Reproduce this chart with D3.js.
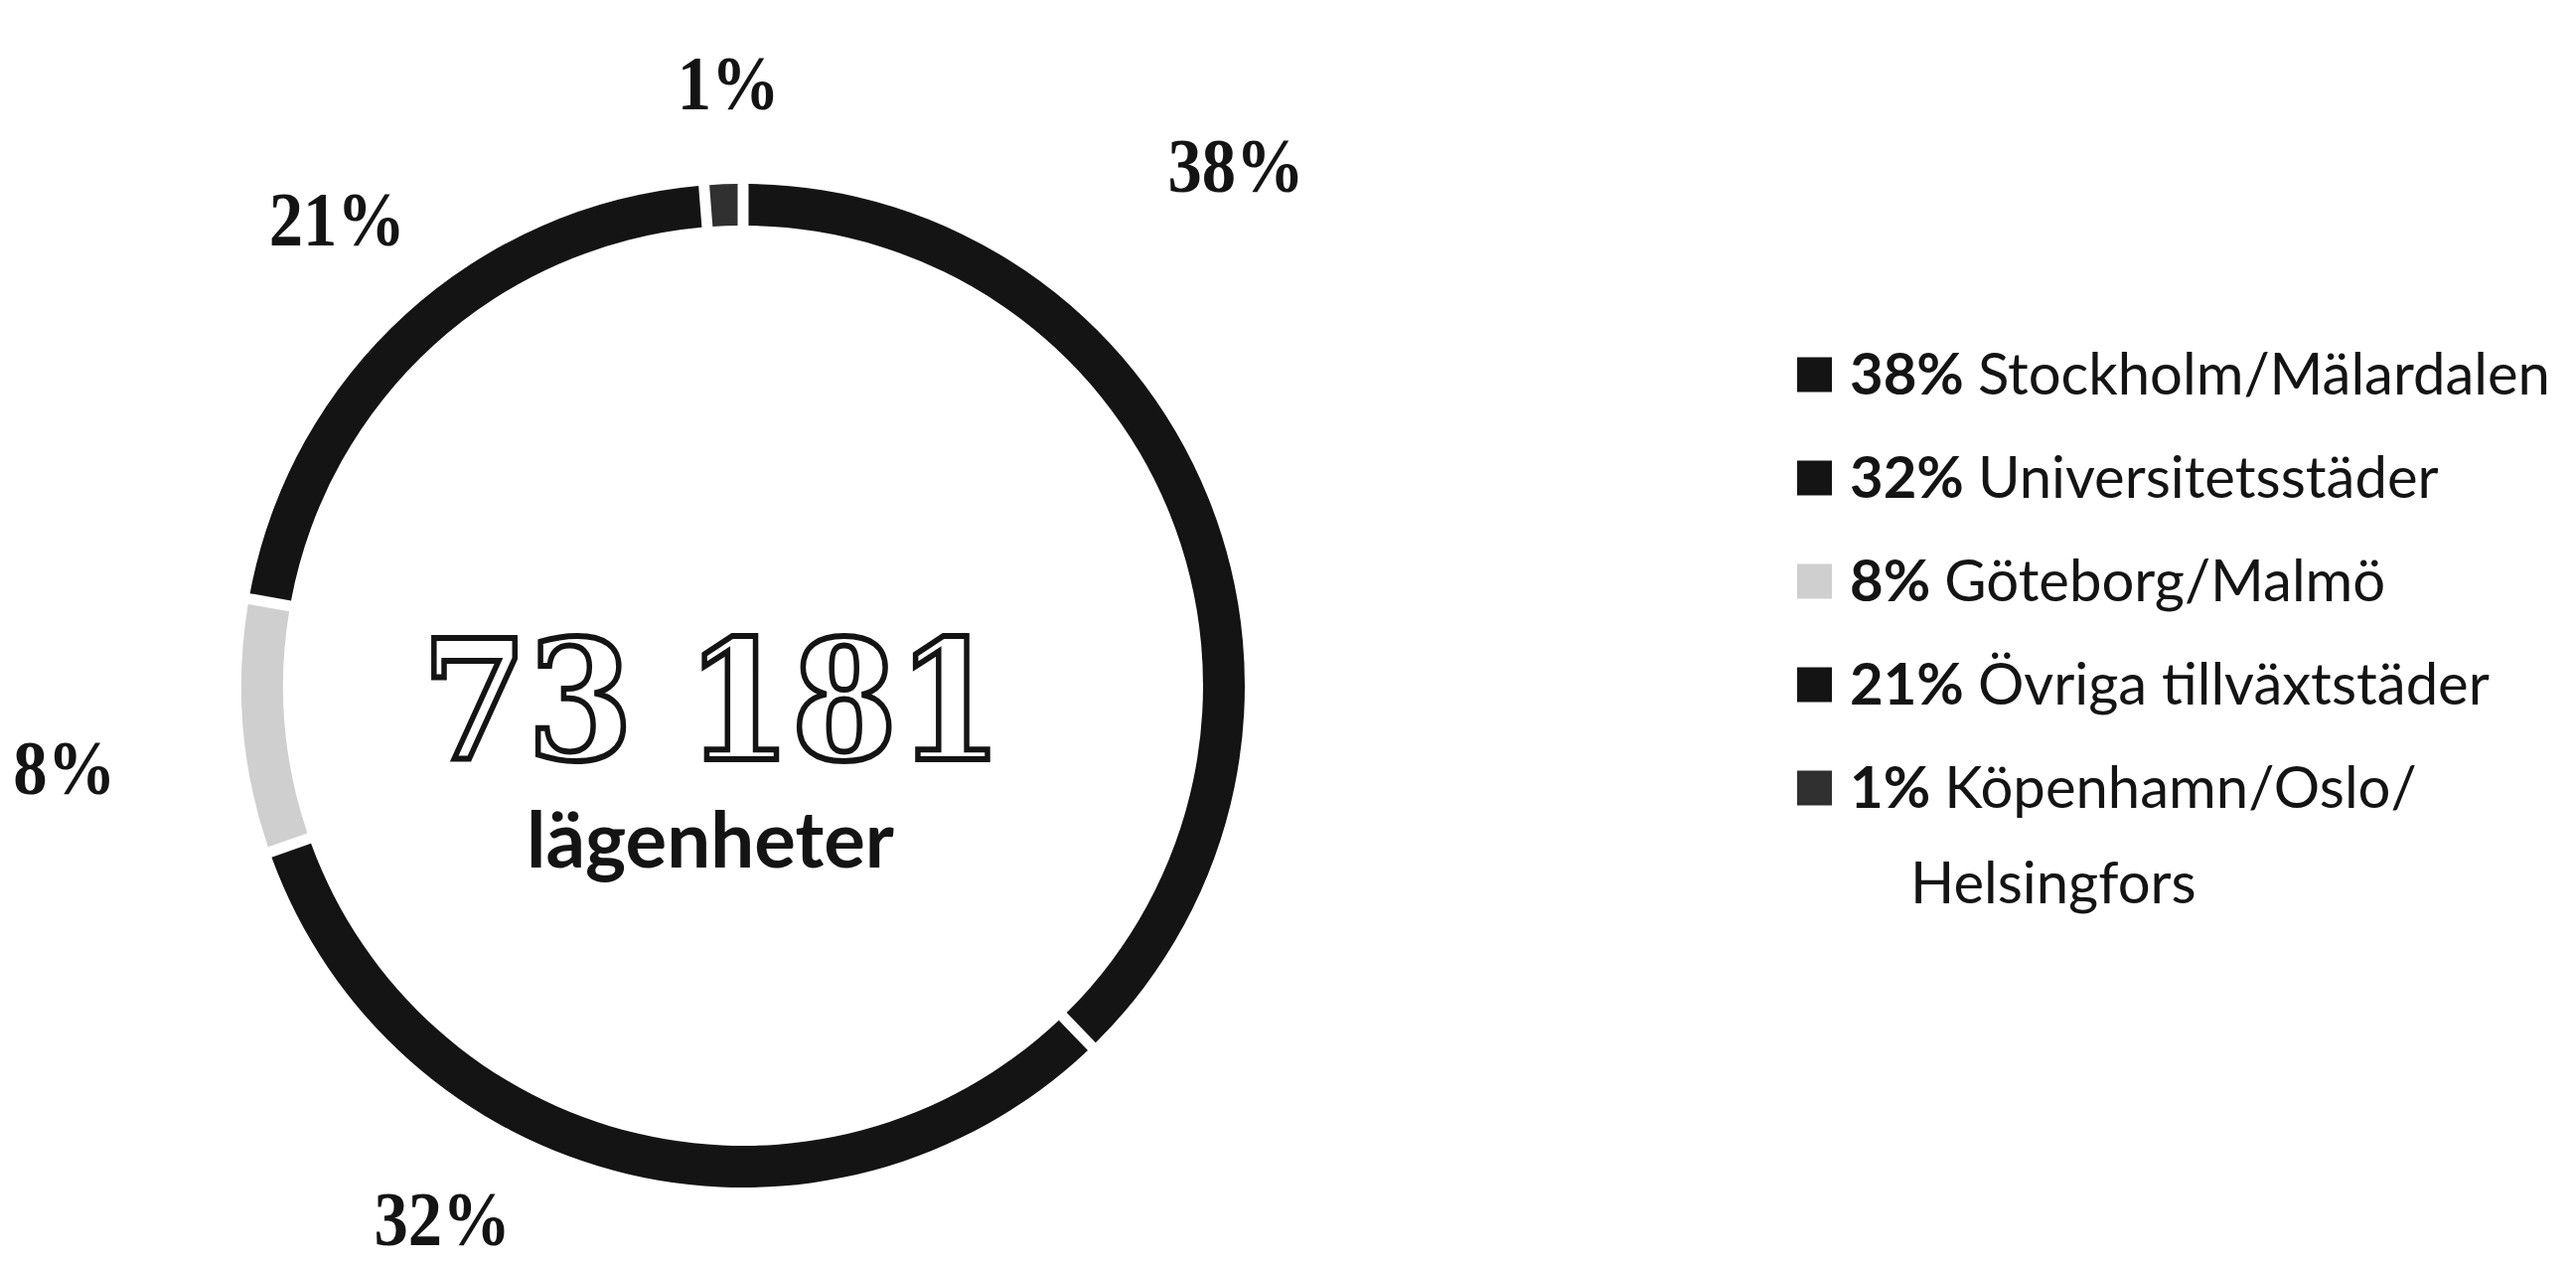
<!DOCTYPE html>
<html>
<head>
<meta charset="utf-8">
<script src="https://cdn.jsdelivr.net/npm/d3@7"></script>
<style>
  html, body { margin: 0; padding: 0; background: #fff; }
</style>
</head>
<body>
<div id="chart"></div>
<script>
// data
const categories = ["Stockholm/Mälardalen", "Universitetsstäder", "Göteborg/Malmö", "Övriga tillväxtstäder", "Köpenhamn/Oslo/Helsingfors"];
const shares = [38, 32, 8, 21, 1];
const legendLines = [["Stockholm/Mälardalen"], ["Universitetsstäder"], ["Göteborg/Malmö"], ["Övriga tillväxtstäder"], ["Köpenhamn/Oslo/", "Helsingfors"]];
const totalLabel = "73 181";
const unitLabel = "lägenheter";

// layout
const width = 2593, height = 1274,
    cx = 748, cy = 690,
    outerR = 505, ringW = 42,
    colors = ["#141414", "#141414", "#cfcfcf", "#141414", "#303030"],
    // where each percent label sits (degrees clockwise from 12 o'clock, distance from centre)
    labelPlace = [{a: 43.4, r: 722}, {a: 209.5, r: 615}, {a: 263.2, r: 688}, {a: 319.0, r: 623}, {a: 358.6, r: 607}],
    legendX = 1809, legendTop = 377, legendStep = 104, cell = 35;

const svg = d3.select("#chart").append("svg")
    .attr("width", width)
    .attr("height", height)
    .style("display", "block");

svg.append("rect").attr("width", width).attr("height", height).attr("fill", "#fff");

const pie = d3.pie().sort(null).value(d => d).padAngle(0.016);
const arc = d3.arc().innerRadius(outerR - ringW).outerRadius(outerR);

const g = svg.append("g").attr("transform", "translate(" + cx + "," + cy + ")");

g.selectAll("path.slice")
    .data(pie(shares))
    .enter().append("path")
    .attr("class", "slice")
    .attr("d", arc)
    .attr("fill", (d, i) => colors[i]);

// percent labels round the ring
const rad = deg => deg * Math.PI / 180;
g.selectAll("text.pct")
    .data(shares)
    .enter().append("text")
    .attr("class", "pct")
    .attr("transform", (d, i) => "translate(" + (labelPlace[i].r * Math.sin(rad(labelPlace[i].a))) + ","
        + (-labelPlace[i].r * Math.cos(rad(labelPlace[i].a))) + ") scale(0.88,1)")
    .attr("dy", "0.35em")
    .attr("text-anchor", "middle")
    .style("font-family", "'Liberation Serif', serif")
    .style("font-weight", "bold")
    .style("font-size", "78px")
    .style("fill", "#141414")
    .text(d => d + "%");

// centre text, drawn as hollow outlined digits
g.append("text")
    .attr("transform", "translate(-31,74) scale(0.92,1)")
    .attr("text-anchor", "middle")
    .style("font-family", "'DejaVu Serif', serif")
    .style("font-weight", "bold")
    .style("font-size", "166px")
    .style("fill", "#fff")
    .style("stroke", "#141414")
    .style("stroke-width", 6)
    .text(totalLabel);

g.append("text")
    .attr("x", -33)
    .attr("y", 183)
    .attr("text-anchor", "middle")
    .style("font-family", "Lato, sans-serif")
    .style("font-weight", "bold")
    .style("font-size", "78px")
    .style("fill", "#141414")
    .text(unitLabel);

// legend
const legend = svg.append("g");

legend.selectAll("rect")
    .data(categories)
    .enter().append("rect")
    .attr("x", legendX)
    .attr("y", (d, i) => legendTop + i * legendStep - cell / 2)
    .attr("width", cell)
    .attr("height", cell)
    .attr("fill", (d, i) => colors[i]);

const items = legend.selectAll("text.item")
    .data(categories)
    .enter().append("text")
    .attr("class", "item")
    .attr("x", legendX + cell + 18)
    .attr("y", (d, i) => legendTop + i * legendStep)
    .attr("dy", "0.35em")
    .style("font-family", "Lato, sans-serif")
    .style("font-size", "58px")
    .style("fill", "#141414");

items.append("tspan")
    .style("font-weight", "bold")
    .text((d, i) => shares[i] + "% ");

items.append("tspan")
    .text((d, i) => legendLines[i][0]);

// second line of a wrapped legend entry
legendLines.forEach((lines, i) => {
    if (lines.length < 2) return;
    legend.append("text")
        .attr("x", legendX + cell + 79)
        .attr("y", legendTop + i * legendStep + 96)
        .attr("dy", "0.35em")
        .style("font-family", "Lato, sans-serif")
        .style("font-size", "58px")
        .style("fill", "#141414")
        .text(lines[1]);
});
</script>
</body>
</html>
